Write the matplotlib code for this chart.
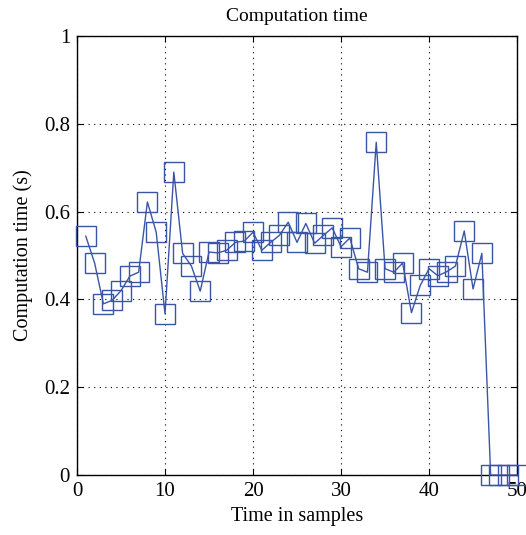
import matplotlib

matplotlib.use("Agg")
import matplotlib.pyplot as plt
import numpy as np

# sample index and measured computation time (s)
samples = np.arange(1, 51)
comp_time = [
    0.544, 0.483, 0.39, 0.398, 0.42, 0.453, 0.462, 0.622, 0.553, 0.367,
    0.69, 0.505, 0.476, 0.419, 0.508, 0.506, 0.512, 0.53, 0.533, 0.553,
    0.512, 0.53, 0.546, 0.576, 0.53, 0.573, 0.528, 0.546, 0.563, 0.52,
    0.54, 0.47, 0.462, 0.758, 0.47, 0.462, 0.483, 0.37, 0.432, 0.47,
    0.454, 0.463, 0.476, 0.556, 0.424, 0.505, 0.0, 0.0, 0.0, 0.0,
]
xticks = [0, 10, 20, 30, 40, 50]
yticks = [0, 0.2, 0.4, 0.6, 0.8, 1]
ytick_labels = ["0", "0.2", "0.4", "0.6", "0.8", "1"]

plt.rcParams["font.family"] = ["Liberation Serif", "DejaVu Serif"]
blue = "#3a55a8"

fig = plt.figure(figsize=(5.26, 5.35), dpi=100)
ax = fig.add_axes([0.1464, 0.112, 0.8366, 0.8207])
ax.plot(samples, comp_time, color=blue, linewidth=1.0, marker="s", markersize=14.5,
        markerfacecolor="none", markeredgecolor=blue, markeredgewidth=1.0, clip_on=False, zorder=3)

ax.set_xlim(0, 50)
ax.set_ylim(0, 1)
ax.set_xticks(xticks)
ax.set_yticks(yticks)
ax.set_yticklabels(ytick_labels)
ax.grid(True, linestyle=(0, (1, 4)), color="black", linewidth=0.8)
ax.tick_params(direction="in", top=True, right=True, labelsize=15, length=4, pad=5)
for s in ax.spines.values():
    s.set_linewidth(1.0)
ax.set_title("Computation time", fontsize=14, pad=11)
ax.set_xlabel("Time in samples", fontsize=14.5, labelpad=4)
ax.set_ylabel("Computation time (s)", fontsize=14.5, labelpad=8)

fig.savefig("out.png", dpi=100)
